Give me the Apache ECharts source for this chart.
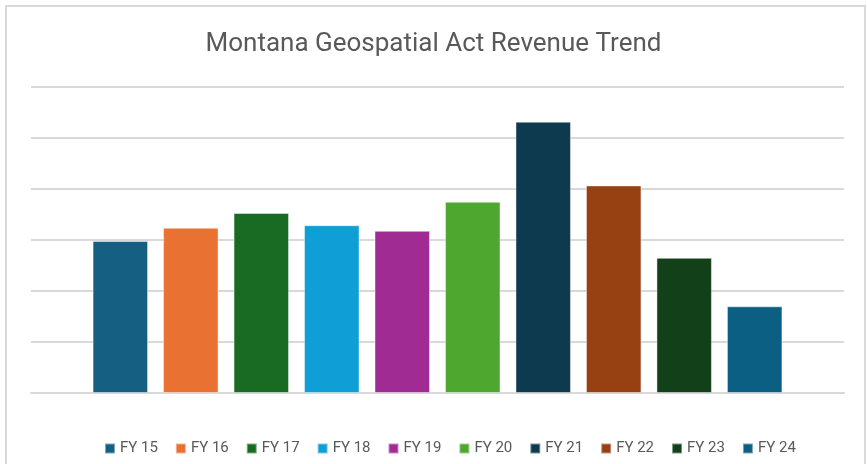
<!DOCTYPE html>
<html lang="en" style="height: 100%">
<head>
  <meta charset="utf-8">
</head>
<body style="height: 100%; margin: 0; background: #ffffff">
  <div id="container" style="width: 867px; height: 464px"></div>

  <script type="text/javascript" src="https://cdn.jsdelivr.net/npm/echarts@6/dist/echarts.min.js"></script>
  <script type="text/javascript">
// fiscal years (each drawn as its own series, like the Excel chart)
var years = ['FY 15', 'FY 16', 'FY 17', 'FY 18', 'FY 19', 'FY 20', 'FY 21', 'FY 22', 'FY 23', 'FY 24'];
// revenue, thousands of dollars (axis has no labels, read off the gridlines)
var revenue = [298, 324, 353, 329, 318, 375, 532, 407, 265, 170];
var colors = ['#156082', '#E97132', '#196B24', '#0F9ED5', '#A02B93', '#4EA72E', '#0E3A50', '#974012', '#124119', '#0B5F82'];
var category = ['Revenue'];

var dom = document.getElementById('container');
var myChart = echarts.init(dom, null, { renderer: 'canvas' });

var series = [];
for (var i = 0; i < years.length; i++) {
  series.push({
    name: years[i],
    type: 'bar',
    data: [revenue[i]],
    barWidth: 55.5,
    barGap: '27%',
    itemStyle: {
      color: colors[i],
      borderColor: 'rgba(255,255,255,0.45)',
      borderWidth: 1
    }
  });
}

var option = {
  backgroundColor: '#ffffff',
  color: colors,
  animation: false,
  title: {
    text: 'Montana Geospatial Act Revenue Trend',
    left: 'center',
    top: 26,
    textStyle: {
      fontFamily: 'Roboto',
      fontWeight: 'normal',
      fontSize: 26,
      color: '#595959'
    }
  },
  graphic: [{
    type: 'rect',
    shape: { x: 6, y: 6, width: 859, height: 470 },
    style: { fill: 'none', stroke: '#d9d9d9', lineWidth: 2 },
    silent: true
  }],
  legend: {
    bottom: 3,
    left: 99,
    itemWidth: 10,
    itemHeight: 10,
    itemGap: 17,
    icon: 'rect',
    textStyle: {
      fontFamily: 'Roboto',
      fontSize: 15,
      color: '#595959'
    },
    data: years
  },
  grid: {
    left: 31,
    right: 23,
    top: 87,
    bottom: 71
  },
  xAxis: {
    type: 'category',
    data: category,
    axisLine: { show: true, lineStyle: { color: '#d9d9d9', width: 2 } },
    axisTick: { show: false },
    axisLabel: { show: false }
  },
  yAxis: {
    type: 'value',
    min: 0,
    max: 600,
    interval: 100,
    axisLine: { show: false },
    axisTick: { show: false },
    axisLabel: { show: false },
    splitLine: { lineStyle: { color: '#d9d9d9', width: 2 } }
  },
  series: series
};

myChart.setOption(option);
window.addEventListener('resize', myChart.resize);
  </script>
</body>
</html>
